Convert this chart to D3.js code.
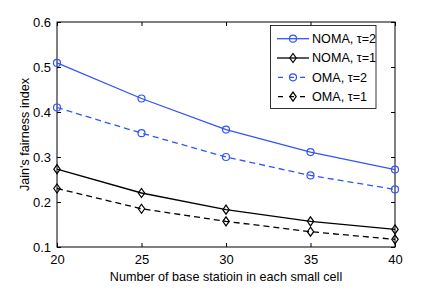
<!DOCTYPE html>
<html>
<head>
<meta charset="utf-8">
<script src="https://cdn.jsdelivr.net/npm/d3@7"></script>
<style>
  body { margin: 0; background: #fff; }
  text { font-family: "Liberation Sans", Arial, sans-serif; }
</style>
</head>
<body>
<script>
var xVals = [20, 25, 30, 35, 40];
var nomaT2 = [0.509, 0.430, 0.361, 0.311, 0.272];
var nomaT1 = [0.273, 0.220, 0.183, 0.157, 0.139];
var omaT2 = [0.410, 0.353, 0.300, 0.259, 0.228];
var omaT1 = [0.230, 0.185, 0.157, 0.134, 0.117];
var yTicks = [0.1, 0.2, 0.3, 0.4, 0.5, 0.6];
var seriesNames = ["NOMA, \u03c4=2", "NOMA, \u03c4=1", "OMA, \u03c4=2", "OMA, \u03c4=1"];

var blue = "#3355f5";
var series = [
  {name: seriesNames[0], vals: nomaT2, color: blue, dash: null, marker: "circle"},
  {name: seriesNames[1], vals: nomaT1, color: "#000", dash: null, marker: "diamond"},
  {name: seriesNames[2], vals: omaT2, color: blue, dash: "6,4", marker: "circle"},
  {name: seriesNames[3], vals: omaT1, color: "#000", dash: "6,4", marker: "diamond"}
];

var W = 436, H = 291;
var m = {left: 57, right: 41, top: 22, bottom: 44};
var fs = 12.6;

var svg = d3.select("body").append("svg")
    .attr("width", W)
    .attr("height", H);

var x = d3.scaleLinear().domain([20, 40]).range([m.left, W - m.right]);
var y = d3.scaleLinear().domain([0.1, 0.6]).range([H - m.bottom, m.top]);

// axes with inward ticks on all sides
svg.append("g")
    .attr("transform", "translate(0," + (H - m.bottom) + ")")
    .call(d3.axisBottom(x).tickValues(xVals).tickSizeInner(-4).tickSizeOuter(0).tickPadding(8))
    .call(function(g){ g.select(".domain").remove(); });
svg.append("g")
    .attr("transform", "translate(0," + m.top + ")")
    .call(d3.axisTop(x).tickValues(xVals).tickSizeInner(-4).tickSizeOuter(0).tickFormat(""))
    .call(function(g){ g.select(".domain").remove(); });
svg.append("g")
    .attr("transform", "translate(" + m.left + ",0)")
    .call(d3.axisLeft(y).tickValues(yTicks).tickSizeInner(-4).tickSizeOuter(0).tickPadding(6).tickFormat(d3.format(".1f")))
    .call(function(g){ g.select(".domain").remove(); });
svg.append("g")
    .attr("transform", "translate(" + (W - m.right) + ",0)")
    .call(d3.axisRight(y).tickValues(yTicks).tickSizeInner(-4).tickSizeOuter(0).tickFormat(""))
    .call(function(g){ g.select(".domain").remove(); });

svg.selectAll(".tick text")
    .attr("font-size", fs + 0.4)
    .attr("fill", "#000")
    .attr("font-family", "Liberation Sans, Arial, sans-serif");
svg.selectAll(".tick line").attr("stroke", "#000");

svg.append("rect")
    .attr("x", m.left).attr("y", m.top)
    .attr("width", W - m.left - m.right)
    .attr("height", H - m.top - m.bottom)
    .attr("fill", "none")
    .attr("stroke", "#000")
    .attr("stroke-width", 1);

var line = d3.line()
    .x(function(d, i){ return x(xVals[i]); })
    .y(function(d){ return y(d); });

function drawMarker(g, type, cx, cy, color) {
  if (type == "circle") {
    g.append("circle")
      .attr("cx", cx).attr("cy", cy).attr("r", 3.5)
      .attr("fill", "none").attr("stroke", color).attr("stroke-width", 1.2);
  } else {
    g.append("path")
      .attr("d", "M" + cx + "," + (cy - 4.5) + "L" + (cx + 3.2) + "," + cy + "L" + cx + "," + (cy + 4.5) + "L" + (cx - 3.2) + "," + cy + "Z")
      .attr("fill", "none").attr("stroke", color).attr("stroke-width", 1.2);
  }
}

series.forEach(function(s){
  svg.append("path")
    .datum(s.vals)
    .attr("d", line)
    .attr("fill", "none")
    .attr("stroke", s.color)
    .attr("stroke-width", 1.3)
    .attr("stroke-dasharray", s.dash);
  var g = svg.append("g");
  s.vals.forEach(function(v, i){
    drawMarker(g, s.marker, x(xVals[i]), y(v), s.color);
  });
});

// legend
var lg = svg.append("g");
lg.append("rect")
    .attr("x", 270.5).attr("y", 25.5)
    .attr("width", 105.5).attr("height", 83)
    .attr("fill", "#fff")
    .attr("stroke", "#000")
    .attr("stroke-width", 0.8);
series.forEach(function(s, i){
  var ly = 38.7 + i * 19.3;
  lg.append("line")
    .attr("x1", 277).attr("x2", 309)
    .attr("y1", ly).attr("y2", ly)
    .attr("stroke", s.color)
    .attr("stroke-width", 1.3)
    .attr("stroke-dasharray", s.dash ? "5,6" : null)
    .attr("stroke-dashoffset", s.dash ? -1 : null);
  drawMarker(lg, s.marker, 293, ly, s.color);
  lg.append("text")
    .attr("x", 312).attr("y", ly + 4.3)
    .attr("font-size", fs)
    .text(s.name);
});

svg.append("text")
    .attr("x", (m.left + W - m.right) / 2)
    .attr("y", 281)
    .attr("text-anchor", "middle")
    .attr("font-size", fs)
    .text("Number of base statioin in each small cell");

svg.append("text")
    .attr("transform", "translate(29," + ((m.top + H - m.bottom) / 2) + ") rotate(-90)")
    .attr("text-anchor", "middle")
    .attr("font-size", fs)
    .text("Jain's fairness index");
</script>
</body>
</html>
